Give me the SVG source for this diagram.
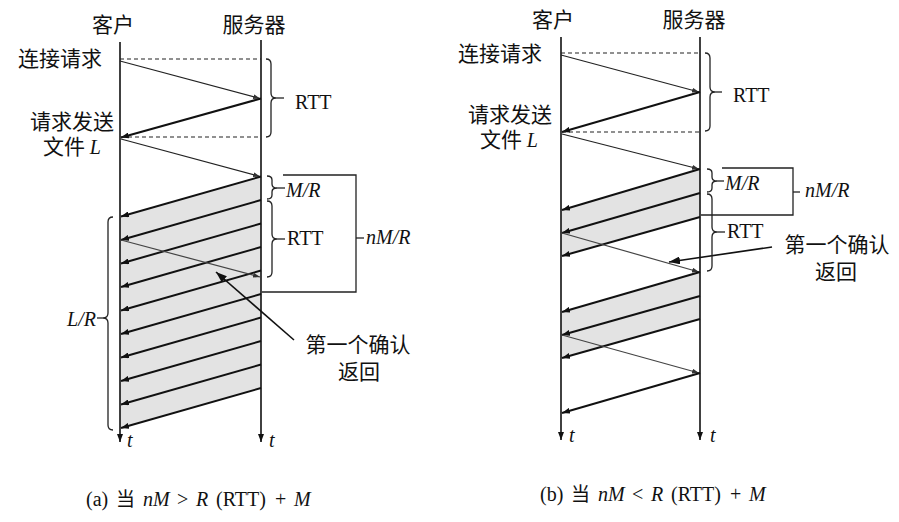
<svg xmlns="http://www.w3.org/2000/svg" width="899" height="522" viewBox="0 0 899 522">
<defs>
<style>
.life{stroke:#111;stroke-width:1.6;fill:none}
.pkt{stroke:#111;stroke-width:2;fill:none}
.req{stroke:#222;stroke-width:1.2;fill:none}
.ack{stroke:#444;stroke-width:1.2;fill:none}
.dash{stroke:#222;stroke-width:1.1;stroke-dasharray:4 3;fill:none}
.shade{fill:#e3e3e3;stroke:none}
.brace{stroke:#222;stroke-width:1.3;fill:none}
.call{stroke:#111;stroke-width:1.6;fill:none}
.cjk{font-family:"Noto Sans CJK SC","Noto Sans",sans-serif;font-size:21px;fill:#111}
.ser{font-family:"Liberation Serif","Times New Roman",serif;font-size:20px;fill:#111}
.it{font-family:"Liberation Serif","Times New Roman",serif;font-style:italic;font-size:20px;fill:#111}
.cap{font-family:"Liberation Serif","Times New Roman",serif;font-size:20px;fill:#111}
.capc{font-family:"Noto Sans CJK SC",sans-serif;font-size:19px;fill:#111}
</style>
<marker id="ah" markerUnits="userSpaceOnUse" markerWidth="8" markerHeight="6" refX="8" refY="3" orient="auto">
<path d="M0,0 L8,3 L0,6 z" fill="#111"/>
</marker>
<marker id="ahs" markerUnits="userSpaceOnUse" markerWidth="7" markerHeight="5" refX="7" refY="2.5" orient="auto">
<path d="M0,0 L7,2.5 L0,5 z" fill="#333"/>
</marker>
<marker id="ahb" markerUnits="userSpaceOnUse" markerWidth="11" markerHeight="8" refX="11" refY="4" orient="auto">
<path d="M0,0 L11,4 L0,8 z" fill="#111"/>
</marker>
</defs>
<rect width="899" height="522" fill="#fff"/>

<!-- ================= Panel (a) ================= -->
<g id="a-shading">
<polygon class="shade" points="261,176.5 261,388 120,428 120,216.5"/>
</g>
<g id="a-client">
<line class="life" x1="120" y1="42" x2="120" y2="442" marker-end="url(#ah)"/>
<text class="cjk" x="113" y="32" text-anchor="middle">客户</text>
<text class="it" x="127" y="447" font-size="17">t</text>
</g>
<g id="a-server">
<line class="life" x1="261" y1="40" x2="261" y2="442" marker-end="url(#ah)"/>
<text class="cjk" x="254" y="32" text-anchor="middle">服务器</text>
<text class="it" x="269" y="447" font-size="17">t</text>
</g>
<g id="a-connectors">
<line class="dash" x1="120" y1="59" x2="261" y2="59"/>
<line class="req" x1="120" y1="61" x2="260" y2="98.5" marker-end="url(#ahs)"/>
<line class="pkt" x1="261" y1="98.5" x2="121" y2="137.5" marker-end="url(#ah)"/>
<line class="dash" x1="121" y1="137" x2="261" y2="137"/>
<line class="req" x1="121" y1="139" x2="260" y2="176.5" marker-end="url(#ahs)"/>
<line class="pkt" x1="261" y1="176.5" x2="121" y2="216.5" marker-end="url(#ah)"/>
<line class="pkt" x1="261" y1="200" x2="121" y2="240" marker-end="url(#ah)"/>
<line class="pkt" x1="261" y1="223.5" x2="121" y2="263.5" marker-end="url(#ah)"/>
<line class="pkt" x1="261" y1="247" x2="121" y2="287" marker-end="url(#ah)"/>
<line class="pkt" x1="261" y1="270.5" x2="121" y2="310.5" marker-end="url(#ah)"/>
<line class="pkt" x1="261" y1="294" x2="121" y2="334" marker-end="url(#ah)"/>
<line class="pkt" x1="261" y1="317.5" x2="121" y2="357.5" marker-end="url(#ah)"/>
<line class="pkt" x1="261" y1="341" x2="121" y2="381" marker-end="url(#ah)"/>
<line class="pkt" x1="261" y1="364.5" x2="121" y2="404.5" marker-end="url(#ah)"/>
<line class="pkt" x1="261" y1="388" x2="121" y2="428" marker-end="url(#ah)"/>
<line class="ack" x1="121" y1="240" x2="260" y2="277" marker-end="url(#ahs)"/>
<line class="call" x1="294" y1="340" x2="216" y2="272" marker-end="url(#ahb)"/>
</g>
<g id="a-labels">
<text class="cjk" x="18" y="66">连接请求</text>
<text class="cjk" x="72" y="129" text-anchor="middle">请求发送</text>
<text class="cjk" x="72" y="154" text-anchor="middle">文件 <tspan class="it" font-size="21">L</tspan></text>
<text class="cjk" x="358" y="352" text-anchor="middle">第一个确认</text>
<text class="cjk" x="359" y="379" text-anchor="middle">返回</text>
</g>
<g id="a-rtt1">
<path class="brace" d="M266,59 Q271,59 271,64 L271,93 Q271,98 276,98 Q271,98 271,103 L271,132 Q271,137 266,137"/>
<line class="brace" x1="276" y1="98" x2="284" y2="98"/>
<text class="ser" x="295" y="109">RTT</text>
</g>
<g id="a-mr">
<path class="brace" d="M267,176 Q272,176 272,180 L272,184 Q272,188 277,188 Q272,188 272,192 L272,195 Q272,199 267,199"/>
<line class="brace" x1="277" y1="188" x2="285" y2="188"/>
<text class="it" x="286" y="197">M/R</text>
</g>
<g id="a-rtt2">
<path class="brace" d="M267,201 Q272,201 272,206 L272,234 Q272,239 277,239 Q272,239 272,244 L272,272 Q272,277 267,277"/>
<line class="brace" x1="277" y1="239" x2="285" y2="239"/>
<text class="ser" x="287" y="245">RTT</text>
</g>
<g id="a-nmr">
<polyline class="brace" points="283,175 356,175 356,292 262,292"/>
<line class="brace" x1="356" y1="238" x2="364" y2="238"/>
<text class="it" x="366" y="244">nM/R</text>
</g>
<g id="a-lr">
<path class="brace" d="M113,217 Q108,217 108,222 L108,313 Q108,318 103,318 Q108,318 108,323 L108,425 Q108,430 113,430"/>
<line class="brace" x1="103" y1="318" x2="97" y2="318"/>
<text class="it" x="96" y="326" text-anchor="end">L/R</text>
</g>
<g id="a-caption">
<text class="cap" x="86" y="506">(a)</text>
<text class="capc" x="116" y="506">当</text>
<text class="cap" x="143" y="506" font-style="italic">nM</text>
<text class="cap" x="177" y="506">&gt;</text>
<text class="cap" x="196" y="506" font-style="italic">R</text>
<text class="cap" x="216" y="506">(RTT)</text>
<text class="cap" x="275" y="506">+</text>
<text class="cap" x="294" y="506" font-style="italic">M</text>
</g>

<!-- ================= Panel (b) ================= -->
<g id="b-shading">
<polygon class="shade" points="700,169 700,217 561,256 561,210"/>
<polygon class="shade" points="700,272 700,319 561,358 561,312"/>
</g>
<g id="b-client">
<line class="life" x1="561" y1="37" x2="561" y2="440" marker-end="url(#ah)"/>
<text class="cjk" x="553" y="27" text-anchor="middle">客户</text>
<text class="it" x="569" y="442" font-size="17">t</text>
</g>
<g id="b-server">
<line class="life" x1="700" y1="37" x2="700" y2="440" marker-end="url(#ah)"/>
<text class="cjk" x="694" y="27" text-anchor="middle">服务器</text>
<text class="it" x="710" y="442" font-size="17">t</text>
</g>
<g id="b-connectors">
<line class="dash" x1="561" y1="53" x2="700" y2="53"/>
<line class="req" x1="561" y1="55" x2="699" y2="92" marker-end="url(#ahs)"/>
<line class="pkt" x1="700" y1="92" x2="562" y2="132" marker-end="url(#ah)"/>
<line class="dash" x1="562" y1="132" x2="700" y2="132"/>
<line class="req" x1="562" y1="134" x2="699" y2="169" marker-end="url(#ahs)"/>
<line class="pkt" x1="700" y1="169" x2="562" y2="210" marker-end="url(#ah)"/>
<line class="pkt" x1="700" y1="193" x2="562" y2="233" marker-end="url(#ah)"/>
<line class="pkt" x1="700" y1="217" x2="562" y2="256" marker-end="url(#ah)"/>
<line class="ack" x1="562" y1="233" x2="699" y2="272" marker-end="url(#ahs)"/>
<line class="pkt" x1="700" y1="272" x2="562" y2="312" marker-end="url(#ah)"/>
<line class="pkt" x1="700" y1="296" x2="562" y2="335" marker-end="url(#ah)"/>
<line class="pkt" x1="700" y1="319" x2="562" y2="358" marker-end="url(#ah)"/>
<line class="ack" x1="562" y1="335" x2="699" y2="373" marker-end="url(#ahs)"/>
<line class="pkt" x1="700" y1="373" x2="562" y2="413" marker-end="url(#ah)"/>
<line class="call" x1="772" y1="247" x2="669" y2="262" marker-end="url(#ahb)"/>
</g>
<g id="b-labels">
<text class="cjk" x="458" y="61">连接请求</text>
<text class="cjk" x="510" y="122" text-anchor="middle">请求发送</text>
<text class="cjk" x="509" y="147" text-anchor="middle">文件 <tspan class="it" font-size="21">L</tspan></text>
<text class="cjk" x="837" y="252" text-anchor="middle">第一个确认</text>
<text class="cjk" x="836" y="279" text-anchor="middle">返回</text>
</g>
<g id="b-rtt1">
<path class="brace" d="M705,53 Q710,53 710,58 L710,87 Q710,92 715,92 Q710,92 710,97 L710,126 Q710,131 705,131"/>
<line class="brace" x1="715" y1="92" x2="722" y2="92"/>
<text class="ser" x="733" y="102">RTT</text>
</g>
<g id="b-mr">
<path class="brace" d="M707,169 Q712,169 712,173 L712,177 Q712,181 717,181 Q712,181 712,185 L712,188 Q712,192 707,192"/>
<line class="brace" x1="717" y1="181" x2="724" y2="181"/>
<text class="it" x="725" y="190">M/R</text>
</g>
<g id="b-rtt2">
<path class="brace" d="M707,194 Q712,194 712,199 L712,227 Q712,232 717,232 Q712,232 712,237 L712,266 Q712,271 707,271"/>
<line class="brace" x1="717" y1="232" x2="725" y2="232"/>
<text class="ser" x="727" y="238">RTT</text>
</g>
<g id="b-nmr">
<polyline class="brace" points="722,168 793,168 793,215 701,215"/>
<line class="brace" x1="793" y1="192" x2="800" y2="192"/>
<text class="it" x="805" y="197">nM/R</text>
</g>
<g id="b-caption">
<text class="cap" x="540" y="501">(b)</text>
<text class="capc" x="571" y="501">当</text>
<text class="cap" x="598" y="501" font-style="italic">nM</text>
<text class="cap" x="632" y="501">&lt;</text>
<text class="cap" x="651" y="501" font-style="italic">R</text>
<text class="cap" x="671" y="501">(RTT)</text>
<text class="cap" x="730" y="501">+</text>
<text class="cap" x="749" y="501" font-style="italic">M</text>
</g>
</svg>
